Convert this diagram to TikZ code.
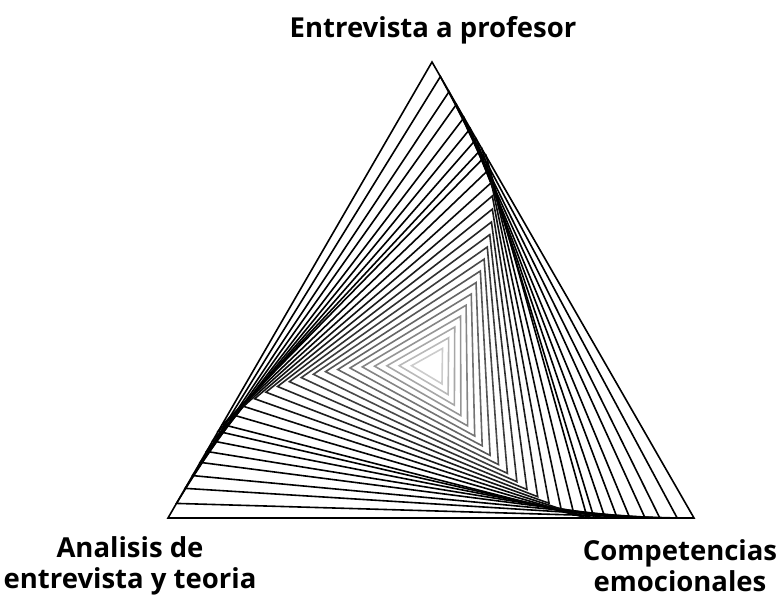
\documentclass[tikz,border=0pt]{standalone}
\usepackage{fontspec}
\setmainfont{Open Sans}
\usetikzlibrary{calc}

\begin{document}
\begin{tikzpicture}[x=1pt, y=-1pt,
    tri/.style={line width=1.6pt, line join=miter},
    etiqueta/.style={font=\fontsize{27.5}{31}\selectfont\bfseries, align=center}]
        \useasboundingbox (0, 0) rectangle (778, 599);
        \coordinate (centro) at (432, 366);
        \coordinate (arriba) at (432, 62);
        \coordinate (izq) at (168, 518);
        \coordinate (der) at (694, 518);
        \foreach \t in {0, 0.032, 0.065, 0.093, 0.122, 0.146, 0.169, 0.19} {
            \draw[tri] ($(arriba)!\t!(der)$) -- ($(izq)!\t!(arriba)$) -- ($(der)!\t!(izq)$) -- cycle;
        }
        \foreach \k in {0,...,16} {
            \pgfmathsetmacro{\radio}{217.3 - \k*12.3}
            \pgfmathsetmacro{\giro}{14.38 + (2.173*2.173 - (\radio/100)^2)/(2*8.1592)*180/pi}
            \pgfmathsetmacro{\tono}{100 - 80*(\k/16)^1.5}
            \draw[tri, draw=black!\tono, shift={(centro)}]
                (\giro-90:\radio) -- (\giro+30:\radio) -- (\giro+150:\radio) -- cycle;
        }
        \node[etiqueta] (profesor) at (433, 30) {Entrevista a profesor};
        \node[etiqueta] (analisis) at (130, 566) {Analisis de\\entrevista y teoria};
        \node[etiqueta] (competencias) at (680, 566) {Competencias\\emocionales};
    \end{tikzpicture}
\end{document}
